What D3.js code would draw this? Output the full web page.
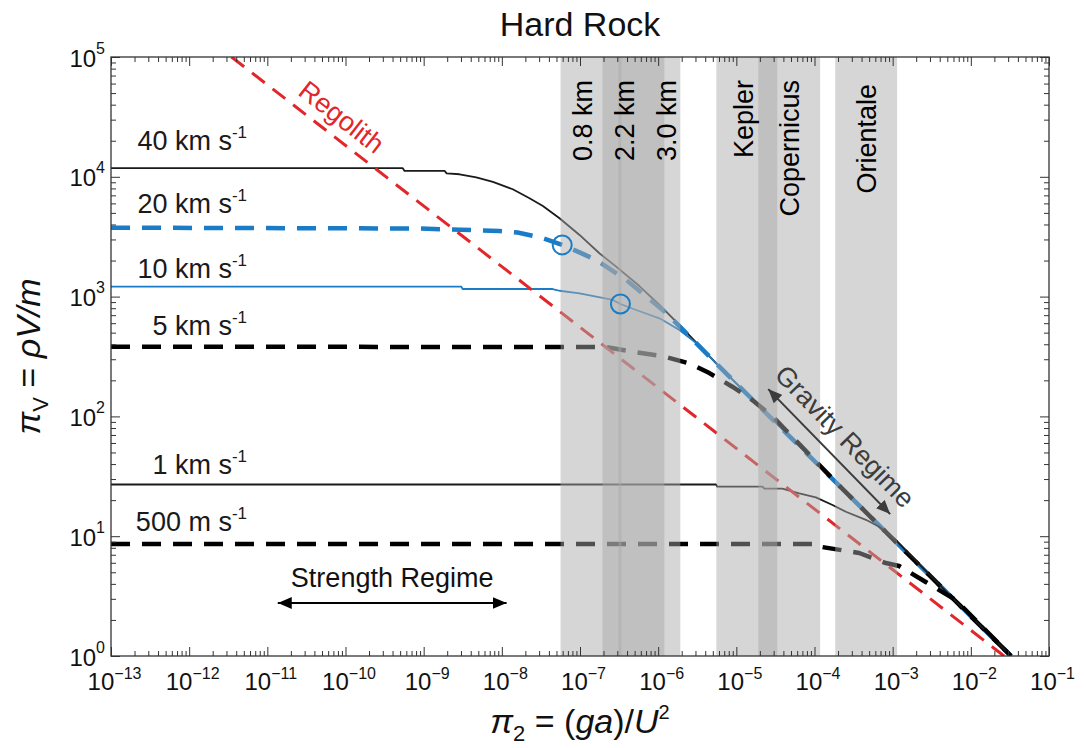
<!DOCTYPE html>
<html>
<head>
<meta charset="utf-8">
<script src="https://cdn.jsdelivr.net/npm/d3@7"></script>
<style>
  body { margin: 0; background: #fff; }
  svg { display: block; font-family: "Liberation Sans", Arial, Helvetica, sans-serif; }
</style>
</head>
<body>
<svg id="chart" width="1086" height="748"></svg>
<script>
// ---- axis domains and tick decades ----
const xDomain = [1e-13, 1e-1];
const yDomain = [1, 1e5];
const xTickExponents = [-13, -12, -11, -10, -9, -8, -7, -6, -5, -4, -3, -2, -1];
const yTickExponents = [0, 1, 2, 3, 4, 5];

// ---- impact velocity curves: pi2 = ga/U^2, piV = rho V / m ----
const velocityLabels = ["40 km s", "20 km s", "10 km s", "5 km s", "1 km s", "500 m s"];

const v40Pi2 = [1e-13, 5.4e-10, 5.7e-10, 1.85e-9, 1.97e-9, 2.88e-9, 4.71e-9, 7.69e-9, 1.38e-8, 2.26e-8, 3.35e-8,
                5.47e-8, 9.86e-8, 1.77e-7, 2.90e-7, 5.75e-7, 1.04e-6, 1.92e-6, 6.07e-6, 3.55e-5, 2.07e-4, 1.21e-3, 7.08e-3, 3.27e-2];
const v40PiV = [11800, 11800, 11200, 11200, 10700, 10500, 9900, 9060, 7870, 6620, 5710,
                4510, 3270, 2300, 1780, 1225, 851, 569, 260, 82.8, 26.4, 8.41, 2.68, 1.0];

const v20Pi2 = [1e-13, 8.9e-10, 9.35e-9, 1.59e-8, 3.19e-8, 5.92e-8, 9.86e-8, 1.61e-7, 3.89e-7, 1.14e-6, 1.92e-6,
                6.07e-6, 3.55e-5, 2.07e-4, 1.21e-3, 7.08e-3, 3.27e-2];
const v20PiV = [3760, 3700, 3530, 3430, 3100, 2700, 2340, 2020, 1380, 773, 557,
                260, 82.8, 26.4, 8.41, 2.68, 1.0];

const v10Pi2 = [1e-13, 3.03e-9, 3.15e-9, 4.46e-8, 5.47e-8, 9.86e-8, 1.61e-7, 2.63e-7, 3.29e-7, 5.23e-7, 1.04e-6,
                1.87e-6, 3.06e-6, 6.07e-6, 3.55e-5, 2.07e-4, 1.21e-3, 7.08e-3, 3.27e-2];
const v10PiV = [1211, 1211, 1157, 1157, 1119, 1066, 998, 937, 867, 773, 659,
                526, 410, 260, 82.8, 26.4, 8.41, 2.68, 1.0];

const v5Pi2 = [1e-13, 2.18e-7, 4.69e-7, 1.13e-6, 2.51e-6, 4.52e-6, 8.89e-6, 1.60e-5, 3.05e-5,
               2.07e-4, 1.21e-3, 7.08e-3, 3.27e-2];
const v5PiV = [382, 379, 347, 319, 277, 230, 177, 137, 97.0,
               26.4, 8.41, 2.68, 1.0];

const v1Pi2 = [1e-13, 5.50e-6, 5.71e-6, 2.17e-5, 2.28e-5, 3.87e-5, 6.38e-5, 1.04e-4, 1.70e-4, 2.52e-4, 4.55e-4,
               6.71e-4, 1.10e-3, 1.63e-3, 7.08e-3, 3.27e-2];
const v1PiV = [27.0, 27.0, 25.9, 25.9, 25.0, 25.0, 22.8, 21.1, 18.2, 16.0, 13.7,
               12.0, 9.29, 7.10, 2.68, 1.0];

const v05Pi2 = [1e-13, 1.15e-4, 1.24e-4, 3.73e-4, 8.18e-4, 1.21e-3, 2.65e-3, 6.43e-3, 3.27e-2];
const v05PiV = [8.61, 8.61, 8.13, 7.24, 5.97, 5.64, 4.15, 2.93, 1.0];

// where each velocity label sits (right end, baseline)
const labelEndPi2 = 5.5e-12;
const labelPiV = [16700, 4990, 1430, 478, 33.0, 11.0];

// markers on the 20 and 10 km/s curves
const circlePi2 = [5.92e-8, 3.29e-7];
const circlePiV = [2700, 867];

// regolith scaling line
const regolithPi2 = [3.48e-12, 2.66e-2];
const regolithPiV = [1e5, 1];

// crater size ranges
const bandNames = ["0.8 km", "2.2 km", "3.0 km", "Kepler", "Copernicus", "Orientale"];
const bandLo = [5.64e-8, 1.94e-7, 3.10e-7, 5.55e-6, 1.91e-5, 1.84e-4];
const bandHi = [3.39e-7, 1.20e-6, 1.92e-6, 3.34e-5, 1.18e-4, 1.14e-3];
const bandLabelPi2 = [1.08e-7, 3.71e-7, 1.27e-6, 1.23e-5, 4.75e-5, 4.58e-4];

// regime arrows (pi2, piV of each tip)
const strengthArrowPi2 = [1.36e-11, 1.15e-8];
const strengthArrowPiV = [2.77, 2.77];
const gravityArrowPi2 = [2.56e-5, 9.29e-4];
const gravityArrowPiV = [169, 15.3];

// ---- layout ----
const svg = d3.select("#chart");
const plot = { left: 111, right: 1049, top: 57, bottom: 656 };
const x = d3.scaleLog().domain(xDomain).range([plot.left, plot.right]);
const y = d3.scaleLog().domain(yDomain).range([plot.bottom, plot.top]);

const BLUE = "#1a7cc6";
const RED = "#e2262a";
const AXIS = "#333";

svg.append("defs").append("clipPath").attr("id", "plotClip")
  .append("rect")
  .attr("x", plot.left).attr("y", plot.top)
  .attr("width", plot.right - plot.left).attr("height", plot.bottom - plot.top);

const defs = svg.select("defs");
function arrowMarker(id, color) {
  defs.append("marker")
    .attr("id", id)
    .attr("viewBox", "0 0 14 12")
    .attr("refX", 14).attr("refY", 6)
    .attr("markerWidth", 14).attr("markerHeight", 12)
    .attr("markerUnits", "userSpaceOnUse")
    .attr("orient", "auto-start-reverse")
    .append("path").attr("d", "M0,0 L14,6 L0,12 Z").attr("fill", color);
}
arrowMarker("headBlack", "#000");
arrowMarker("headGray", "#3c3c3c");

const plotG = svg.append("g").attr("clip-path", "url(#plotClip)");
const line = d3.line().x(d => x(d[0])).y(d => y(d[1]));

// curves, fastest first
const curves = [
  { pi2: v40Pi2, piV: v40PiV, color: "#1a1a1a", width: 1.8, dash: null },
  { pi2: v20Pi2, piV: v20PiV, color: BLUE, width: 4.5, dash: "19,12" },
  { pi2: v10Pi2, piV: v10PiV, color: BLUE, width: 1.8, dash: null },
  { pi2: v5Pi2, piV: v5PiV, color: "#000", width: 4.5, dash: "19,12" },
  { pi2: v1Pi2, piV: v1PiV, color: "#1a1a1a", width: 1.8, dash: null },
  { pi2: v05Pi2, piV: v05PiV, color: "#000", width: 4.5, dash: "19,12" }
];

curves.forEach(c => {
  plotG.append("path")
    .datum(d3.zip(c.pi2, c.piV))
    .attr("d", line)
    .attr("fill", "none")
    .attr("stroke", c.color)
    .attr("stroke-width", c.width)
    .attr("stroke-dasharray", c.dash)
    .attr("stroke-linejoin", "round");
});

// regolith line
plotG.append("path")
  .datum(d3.zip(regolithPi2, regolithPiV))
  .attr("d", line)
  .attr("fill", "none")
  .attr("stroke", RED)
  .attr("stroke-width", 3)
  .attr("stroke-dasharray", "16,10");

// translucent crater bands over the curves
plotG.selectAll("rect.band")
  .data(bandNames.map((n, i) => ({ name: n, lo: bandLo[i], hi: bandHi[i] })))
  .join("rect")
  .attr("class", "band")
  .attr("x", d => x(d.lo))
  .attr("width", d => x(d.hi) - x(d.lo))
  .attr("y", plot.top)
  .attr("height", plot.bottom - plot.top)
  .attr("fill", "rgb(168,168,168)")
  .attr("fill-opacity", 0.475);

// circle markers
plotG.selectAll("circle.mark")
  .data(d3.zip(circlePi2, circlePiV))
  .join("circle")
  .attr("class", "mark")
  .attr("cx", d => x(d[0]))
  .attr("cy", d => y(d[1]))
  .attr("r", 9.5)
  .attr("fill", "none")
  .attr("stroke", BLUE)
  .attr("stroke-width", 2);

// band labels
svg.selectAll("text.bandLabel")
  .data(bandNames.map((n, i) => ({ name: n, px: bandLabelPi2[i] })))
  .join("text")
  .attr("class", "bandLabel")
  .attr("transform", d => `translate(${x(d.px)},${d.name === "Orientale" ? 84 : 80}) rotate(-90)`)
  .attr("text-anchor", "end")
  .attr("dy", "0.36em")
  .attr("font-size", 27)
  .attr("fill", "#000")
  .text(d => d.name);

// velocity labels
velocityLabels.forEach((lab, i) => {
  const t = svg.append("text")
    .attr("x", x(labelEndPi2))
    .attr("y", y(labelPiV[i]))
    .attr("text-anchor", "end")
    .attr("font-size", 27)
    .attr("fill", "#1a1a1a");
  t.append("tspan").text(lab);
  t.append("tspan").attr("dy", -12).attr("font-size", 17).text("-1");
});

// regolith label, aligned with its line
const rAng = Math.atan2(y(regolithPiV[1]) - y(regolithPiV[0]), x(regolithPi2[1]) - x(regolithPi2[0])) * 180 / Math.PI;
svg.append("text")
  .attr("transform", `translate(${x(8.95e-11)},${y(31600)}) rotate(${rAng})`)
  .attr("text-anchor", "middle")
  .attr("dy", "0.35em")
  .attr("font-size", 27)
  .attr("fill", RED)
  .text("Regolith");

// strength regime arrow and label
svg.append("line")
  .attr("x1", x(strengthArrowPi2[0])).attr("y1", y(strengthArrowPiV[0]))
  .attr("x2", x(strengthArrowPi2[1])).attr("y2", y(strengthArrowPiV[1]))
  .attr("stroke", "#000").attr("stroke-width", 2)
  .attr("marker-start", "url(#headBlack)").attr("marker-end", "url(#headBlack)");
svg.append("text")
  .attr("x", (x(strengthArrowPi2[0]) + x(strengthArrowPi2[1])) / 2)
  .attr("y", y(strengthArrowPiV[0]) - 16)
  .attr("text-anchor", "middle")
  .attr("font-size", 27)
  .attr("fill", "#111")
  .text("Strength Regime");

// gravity regime arrow and label
const gx1 = x(gravityArrowPi2[0]), gy1 = y(gravityArrowPiV[0]);
const gx2 = x(gravityArrowPi2[1]), gy2 = y(gravityArrowPiV[1]);
svg.append("line")
  .attr("x1", gx1).attr("y1", gy1).attr("x2", gx2).attr("y2", gy2)
  .attr("stroke", "#3c3c3c").attr("stroke-width", 2)
  .attr("marker-start", "url(#headGray)").attr("marker-end", "url(#headGray)");
const gAng = Math.atan2(gy2 - gy1, gx2 - gx1);
const gOff = 22;
svg.append("text")
  .attr("transform", `translate(${(gx1 + gx2) / 2 + gOff * Math.sin(gAng)},${(gy1 + gy2) / 2 - gOff * Math.cos(gAng)}) rotate(${gAng * 180 / Math.PI})`)
  .attr("text-anchor", "middle")
  .attr("dy", "0.35em")
  .attr("font-size", 27)
  .attr("fill", "#3c3c3c")
  .text("Gravity Regime");

// ---- axes: inward ticks on all four sides ----
const xMajor = xTickExponents.map(e => Math.pow(10, e));
const yMajor = yTickExponents.map(e => Math.pow(10, e));
const xMinor = [], yMinor = [];
xTickExponents.slice(0, -1).forEach(e => { for (let m = 2; m <= 9; m++) xMinor.push(m * Math.pow(10, e)); });
yTickExponents.slice(0, -1).forEach(e => { for (let m = 2; m <= 9; m++) yMinor.push(m * Math.pow(10, e)); });

function tickAxis(gen, scale, vals, size, transform) {
  const g = svg.append("g").attr("transform", transform)
    .call(gen(scale).tickValues(vals).tickSize(-size).tickSizeOuter(0).tickFormat(""));
  g.select(".domain").remove();
  g.selectAll(".tick line").attr("stroke", AXIS).attr("stroke-width", 1);
  return g;
}

tickAxis(d3.axisBottom, x, xMinor, 5, `translate(0,${plot.bottom})`);
const xAxisG = tickAxis(d3.axisBottom, x, xMajor, 9, `translate(0,${plot.bottom})`);
tickAxis(d3.axisTop, x, xMinor, 5, `translate(0,${plot.top})`);
tickAxis(d3.axisTop, x, xMajor, 9, `translate(0,${plot.top})`);
tickAxis(d3.axisLeft, y, yMinor, 5, `translate(${plot.left},0)`);
const yAxisG = tickAxis(d3.axisLeft, y, yMajor, 9, `translate(${plot.left},0)`);
tickAxis(d3.axisRight, y, yMinor, 5, `translate(${plot.right},0)`);
tickAxis(d3.axisRight, y, yMajor, 9, `translate(${plot.right},0)`);

// power-of-ten tick labels
xAxisG.selectAll(".tick").each(function (d) {
  const e = Math.round(Math.log10(d));
  const t = d3.select(this).append("text")
    .attr("x", 3).attr("y", 34)
    .attr("text-anchor", "middle")
    .attr("font-size", 24)
    .attr("fill", "#111");
  t.append("tspan").text("10");
  t.append("tspan").attr("dy", -11).attr("font-size", 16).text("\u2212" + Math.abs(e));
});
yAxisG.selectAll(".tick").each(function (d) {
  const e = Math.round(Math.log10(d));
  const t = d3.select(this).append("text")
    .attr("x", -6).attr("y", 9)
    .attr("text-anchor", "end")
    .attr("font-size", 24)
    .attr("fill", "#111");
  t.append("tspan").text("10");
  t.append("tspan").attr("dy", -13).attr("font-size", 16).text(String(e));
});

// frame
svg.append("rect")
  .attr("x", plot.left).attr("y", plot.top)
  .attr("width", plot.right - plot.left).attr("height", plot.bottom - plot.top)
  .attr("fill", "none").attr("stroke", AXIS).attr("stroke-width", 1.3);

// ---- titles ----
svg.append("text")
  .attr("x", (plot.left + plot.right) / 2).attr("y", 36)
  .attr("text-anchor", "middle")
  .attr("font-size", 34)
  .attr("fill", "#111")
  .text("Hard Rock");

const xl = svg.append("text")
  .attr("x", (plot.left + plot.right) / 2).attr("y", 733)
  .attr("text-anchor", "middle")
  .attr("font-size", 34)
  .attr("fill", "#111");
xl.append("tspan").attr("font-style", "italic").text("\u03C0");
xl.append("tspan").attr("dy", 8).attr("font-size", 22).text("2");
xl.append("tspan").attr("dy", -8).text(" = (");
xl.append("tspan").attr("font-style", "italic").text("ga");
xl.append("tspan").text(")/");
xl.append("tspan").attr("font-style", "italic").text("U");
xl.append("tspan").attr("dy", -14).attr("font-size", 20).text("2");

const yl = svg.append("text")
  .attr("transform", `translate(40,${(plot.top + plot.bottom) / 2}) rotate(-90)`)
  .attr("text-anchor", "middle")
  .attr("font-size", 34)
  .attr("fill", "#111");
yl.append("tspan").attr("font-style", "italic").text("\u03C0");
yl.append("tspan").attr("dy", 8).attr("font-size", 22).text("V");
yl.append("tspan").attr("dy", -8).text(" = ");
yl.append("tspan").attr("font-style", "italic").text("\u03C1V/m");
</script>
</body>
</html>
